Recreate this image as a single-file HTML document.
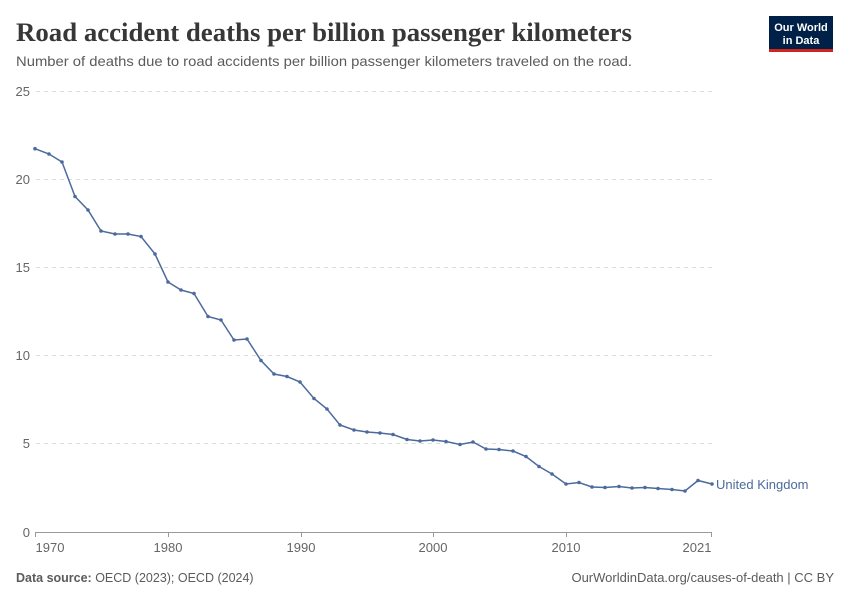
<!DOCTYPE html>
<html><head><meta charset="utf-8"><style>
body{margin:0;width:850px;height:600px;background:#fff;overflow:hidden;font-family:"Liberation Sans",sans-serif}
</style></head><body>
<svg width="850" height="600" xmlns="http://www.w3.org/2000/svg" font-family="Liberation Sans, sans-serif">
<text x="16" y="41" font-family="Liberation Serif, serif" font-size="26" font-weight="bold" fill="#373737" textLength="616" lengthAdjust="spacingAndGlyphs">Road accident deaths per billion passenger kilometers</text>
<text x="16" y="66" font-size="14" fill="#5b5b5b" textLength="616" lengthAdjust="spacingAndGlyphs">Number of deaths due to road accidents per billion passenger kilometers traveled on the road.</text>
<rect x="769" y="16" width="64" height="36" fill="#002147"/>
<rect x="769" y="49" width="64" height="3" fill="#ce261e"/>
<text x="801" y="31" font-size="11" fill="#fff" text-anchor="middle" font-weight="bold">Our World</text>
<text x="801" y="44" font-size="11" fill="#fff" text-anchor="middle" font-weight="bold">in Data</text>
<g stroke="#dddddd" stroke-dasharray="4,4" stroke-width="1">
<line x1="36" x2="712" y1="91.5" y2="91.5"/><line x1="36" x2="712" y1="179.5" y2="179.5"/><line x1="36" x2="712" y1="267.5" y2="267.5"/><line x1="36" x2="712" y1="355.5" y2="355.5"/><line x1="36" x2="712" y1="443.5" y2="443.5"/>
</g>
<line x1="35" x2="712" y1="532.5" y2="532.5" stroke="#999"/>
<g stroke="#999"><line x1="35.5" x2="35.5" y1="532" y2="537"/><line x1="168.5" x2="168.5" y1="532" y2="537"/><line x1="301.5" x2="301.5" y1="532" y2="537"/><line x1="433.5" x2="433.5" y1="532" y2="537"/><line x1="566.5" x2="566.5" y1="532" y2="537"/><line x1="711.5" x2="711.5" y1="532" y2="537"/></g>
<g font-size="13" fill="#666" text-anchor="end"><text x="30" y="96">25</text><text x="30" y="184">20</text><text x="30" y="272">15</text><text x="30" y="360">10</text><text x="30" y="448">5</text><text x="30" y="537">0</text></g>
<g font-size="13" fill="#666" text-anchor="middle"><text x="50" y="552">1970</text><text x="168" y="552">1980</text><text x="301" y="552">1990</text><text x="433" y="552">2000</text><text x="566" y="552">2010</text><text x="697" y="552">2021</text></g>
<polyline id="l" fill="none" stroke="#4c6a9c" stroke-width="1.5" points="35,148.7 49,154 62,162 75,196.5 88,210 101,231 115,234 128,234 141,236.5 155,254 168,282 181,290 194,293.5 208,316.5 221,320 234,340 247,339 261,360.5 274,374 287,376.5 300,382 314,398.5 327,409 340,425 354,430 367,432 380,433 393,434.5 407,439.5 420,441 433,440 446,441.5 460,444.5 473,442 486,449 499,449.5 513,451 526,456.5 539,466.5 552,474 566,484 579,482.5 592,487 605,487.5 619,486.5 632,488 645,487.5 658,488.5 672,489.5 685,491 698,480.5 712,484"/>
<g fill="#4c6a9c" id="d"></g>
<text x="716" y="489" font-size="13" fill="#4c6a9c">United Kingdom</text>
<text x="16" y="582" font-size="12.5" fill="#5b5b5b"><tspan font-weight="bold">Data source:</tspan> OECD (2023); OECD (2024)</text>
<text x="834" y="582" font-size="13" fill="#5b5b5b" text-anchor="end">OurWorldinData.org/causes-of-death | CC BY</text>
</svg>
<script>
var p=document.getElementById('l').getAttribute('points').trim().split(/\s+/),g=document.getElementById('d');
p.forEach(function(s){var a=s.split(',');var c=document.createElementNS('http://www.w3.org/2000/svg','circle');c.setAttribute('cx',a[0]);c.setAttribute('cy',a[1]);c.setAttribute('r','1.8');g.appendChild(c);});
</script>
</body></html>
